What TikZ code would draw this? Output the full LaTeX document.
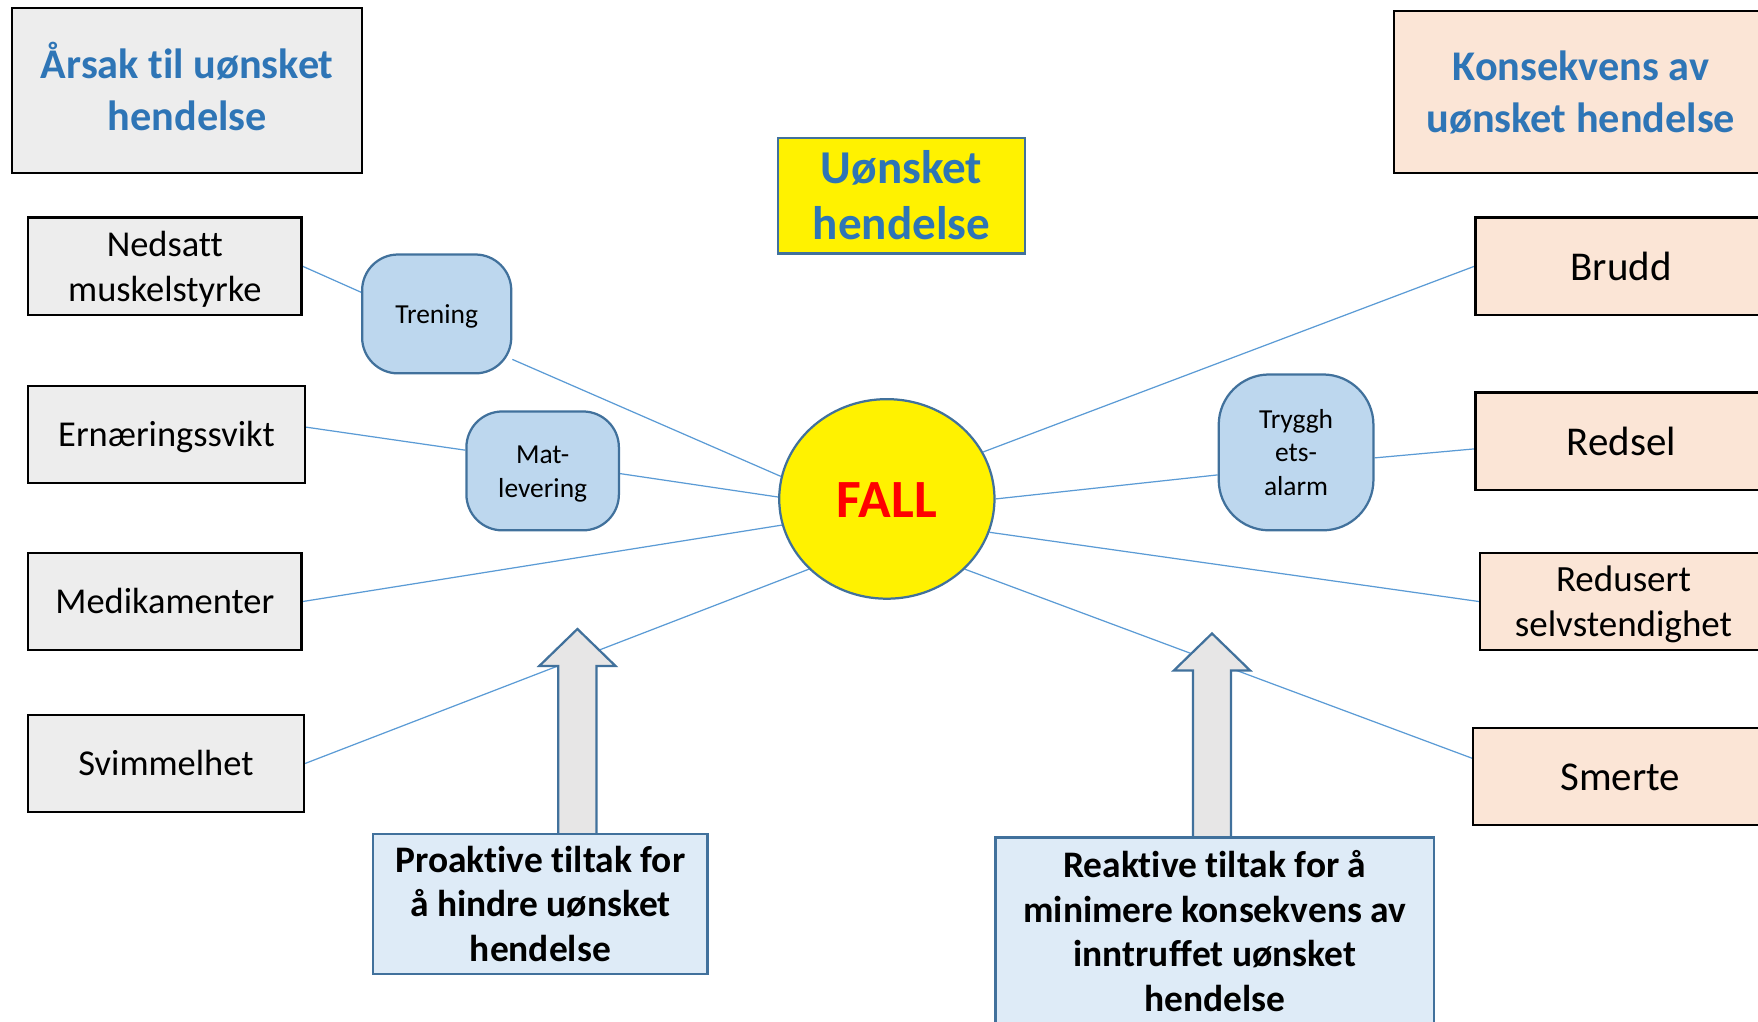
\documentclass[tikz,border=0pt]{standalone}
\usepackage{fontspec}
\setmainfont{Carlito}[Ligatures={NoCommon}]
\usetikzlibrary{shapes.geometric,backgrounds}
\definecolor{boxgray}{HTML}{EDEDED}
\definecolor{boxpeach}{HTML}{FBE5D6}
\definecolor{tiltakblue}{HTML}{BDD7EE}
\definecolor{measureblue}{HTML}{DEEBF7}
\definecolor{edgeblue}{HTML}{41719C}
\definecolor{titleblue}{HTML}{2E75B6}
\definecolor{linkblue}{HTML}{5B9BD5}
\definecolor{arrowgray}{HTML}{E7E6E6}
\newcommand\topstrut{\rule{0pt}{0.95em}}
\newcommand\botstrut{\rule[-0.27em]{0pt}{0.27em}}
\tikzset{
headbox/.style={
  draw=black, line width=2pt,
  inner sep=0pt, align=center,
  text=titleblue,
  font=\fontsize{37.7}{46}\selectfont\bfseries
  },
eventbox/.style={
  draw=edgeblue, line width=2pt, fill=yellow,
  minimum width=220pt, minimum height=103pt,
  inner sep=0pt, align=center,
  text=titleblue,
  font=\fontsize{42}{50}\selectfont\bfseries
  },
fall/.style={
  ellipse, draw=edgeblue, line width=2pt, fill=yellow,
  minimum width=192pt, minimum height=178pt,
  inner sep=0pt, text=red,
  font=\fontsize{48}{58}\selectfont\bfseries
  },
causebox/.style={
  draw=black, line width=2pt, fill=boxgray,
  minimum height=87pt, inner sep=0pt, align=center,
  font=\fontsize{32.5}{40}\selectfont
  },
effectbox/.style={
  draw=black, line width=2pt, fill=boxpeach,
  minimum width=260pt, minimum height=87pt,
  inner sep=0pt, align=center,
  font=\fontsize{36.5}{44}\selectfont
  },
tiltak/.style={
  draw=edgeblue, line width=2pt, fill=tiltakblue,
  rounded corners=32pt, inner sep=0pt, align=center,
  font=\fontsize{24.5}{30}\selectfont
  },
measurebox/.style={
  draw=edgeblue, line width=2pt, fill=measureblue,
  inner sep=0pt, align=center,
  font=\fontsize{33.4}{40}\selectfont\bfseries
  },
link/.style={draw=linkblue, line width=1.1pt},
blockarrow/.style={draw=edgeblue, line width=2pt, fill=arrowgray, line join=miter}
}

\begin{document}
\begin{tikzpicture}[x=1pt,y=-1pt]
\useasboundingbox (0,0) rectangle (1568,911);
\clip (0,0) rectangle (1568,911);

% overskrifter
\node[headbox, fill=boxgray, minimum width=312pt, minimum height=147pt]
  (aarsak) at (167,80.5) {\topstrut Årsak til uønsket\\hendelse\botstrut};
\node[headbox, fill=boxpeach, minimum width=334pt, minimum height=144pt]
  (konsekvens) at (1410,82) {\topstrut Konsekvens av\\uønsket hendelse\botstrut};
\node[eventbox] (uonsket) at (804,174.5) {\topstrut Uønsket\\hendelse\botstrut};
\node[fall] (fall) at (791,445) {\topstrut FALL\botstrut};

% årsaker
\node[causebox, minimum width=244pt] (nedsatt) at (147,237.5) {\topstrut Nedsatt\\muskelstyrke\botstrut};
\node[causebox, minimum width=247pt] (ernaering) at (148.5,387.5) {\topstrut Ernæringssvikt\botstrut};
\node[causebox, minimum width=244pt] (medikament) at (147,536.5) {\topstrut Medikamenter\botstrut};
\node[causebox, minimum width=246pt] (svimmel) at (148,681) {\topstrut Svimmelhet\botstrut};

% konsekvenser
\node[effectbox] (brudd) at (1446,237.5) {\topstrut Brudd\botstrut};
\node[effectbox] (redsel) at (1446,393.5) {\topstrut Redsel\botstrut};
\node[effectbox, minimum width=256pt, font=\fontsize{33}{40}\selectfont]
  (redusert) at (1448,536.5) {\topstrut Redusert\\selvstendighet\botstrut};
\node[effectbox, minimum width=262pt] (smerte) at (1445,692.5) {\topstrut Smerte\botstrut};

% tiltak
\node[tiltak, minimum width=133pt, minimum height=106pt] (trening) at (389.5,280) {\topstrut Trening\botstrut};
\node[tiltak, minimum width=136pt, minimum height=106pt] (matlev) at (484,420) {\topstrut Mat-\\levering\botstrut};
\node[tiltak, rounded corners=45pt, minimum width=138pt, minimum height=139pt]
  (trygg) at (1156,403.5) {\topstrut Tryggh\\ets-\\alarm\botstrut};

% proaktive og reaktive tiltak
\node[measurebox, minimum width=298pt, minimum height=125pt]
  (proaktiv) at (482,806.5) {\topstrut Proaktive tiltak for\\å hindre uønsket\\hendelse\botstrut};
\node[measurebox, minimum width=391pt, minimum height=168pt]
  (reaktiv) at (1083.5,831) {\topstrut Reaktive tiltak for å\\minimere konsekvens av\\inntruffet uønsket\\hendelse\botstrut};

\begin{scope}[on background layer]
\draw[link] (nedsatt.east) -- (trening.164);
\draw[link] (trening.-31) -- (fall.168);
\draw[link] (ernaering.3) -- (matlev.165);
\draw[link] (matlev.-2.5) -- (fall.179);
\draw[link] (medikament.east) -- (fall.194.6);
\draw[link] (svimmel.east) -- (fall.222.4);
\draw[link] (fall.26.3) -- (brudd.west);
\draw[link] (fall.0.6) -- (trygg.196.5);
\draw[link] (trygg.-4.5) -- (redsel.183.3);
\draw[link] (fall.-18.4) -- (redusert.west);
\draw[link] (fall.-42) -- (smerte.173.3);
% blokkpiler
\foreach \ax/\ay/\tip in {515/750/561, 1081/753/565}
  \draw[blockarrow] ({\ax-17},\ay) -- ({\ax-17},{\tip+33}) -- ({\ax-34},{\tip+33})
    -- (\ax,\tip) -- ({\ax+34},{\tip+33}) -- ({\ax+17},{\tip+33}) -- ({\ax+17},\ay) -- cycle;
\end{scope}
\end{tikzpicture}
\end{document}
